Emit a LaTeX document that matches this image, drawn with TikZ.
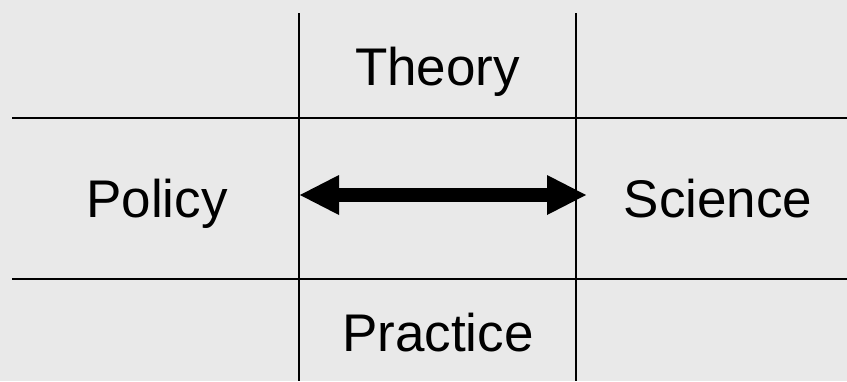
\documentclass[tikz,border=0pt]{standalone}
\usepackage{fontspec}
\setmainfont{Liberation Sans}
\usetikzlibrary{arrows.meta}
\definecolor{bg}{HTML}{E9E9E9}
\tikzset{
  gridline/.style={line width=2.4pt, black},
  label/.style={inner sep=0pt, anchor=base, font=\fontsize{53}{60}\selectfont},
  bigarrow/.style={line width=14pt,
    {Triangle[length=39pt,width=40pt,line width=0pt]}-{Triangle[length=39pt,width=40pt,line width=0pt]}}
}
\begin{document}
\begin{tikzpicture}[x=1pt,y=-1pt]
  \fill[bg] (0,0) rectangle (847,381);
  \useasboundingbox (0,0) rectangle (847,381);
  % grid
  \draw[gridline] (299,13) -- (299,381);
  \draw[gridline] (576,13) -- (576,381);
  \draw[gridline] (12,118) -- (847,118);
  \draw[gridline] (12,279) -- (847,279);
  % labels
  \node[label] (theory) at (437.5,85) {Theory};
  \node[label] (policy) at (157,217) {Policy};
  \node[label] (science) at (718,217) {Science};
  \node[label] (practice) at (438,351) {Practice};
  % arrow
  \coordinate (aL) at (300,195);
  \coordinate (aR) at (586,195);
  \draw[bigarrow] (aL) -- (aR);
\end{tikzpicture}
\end{document}
